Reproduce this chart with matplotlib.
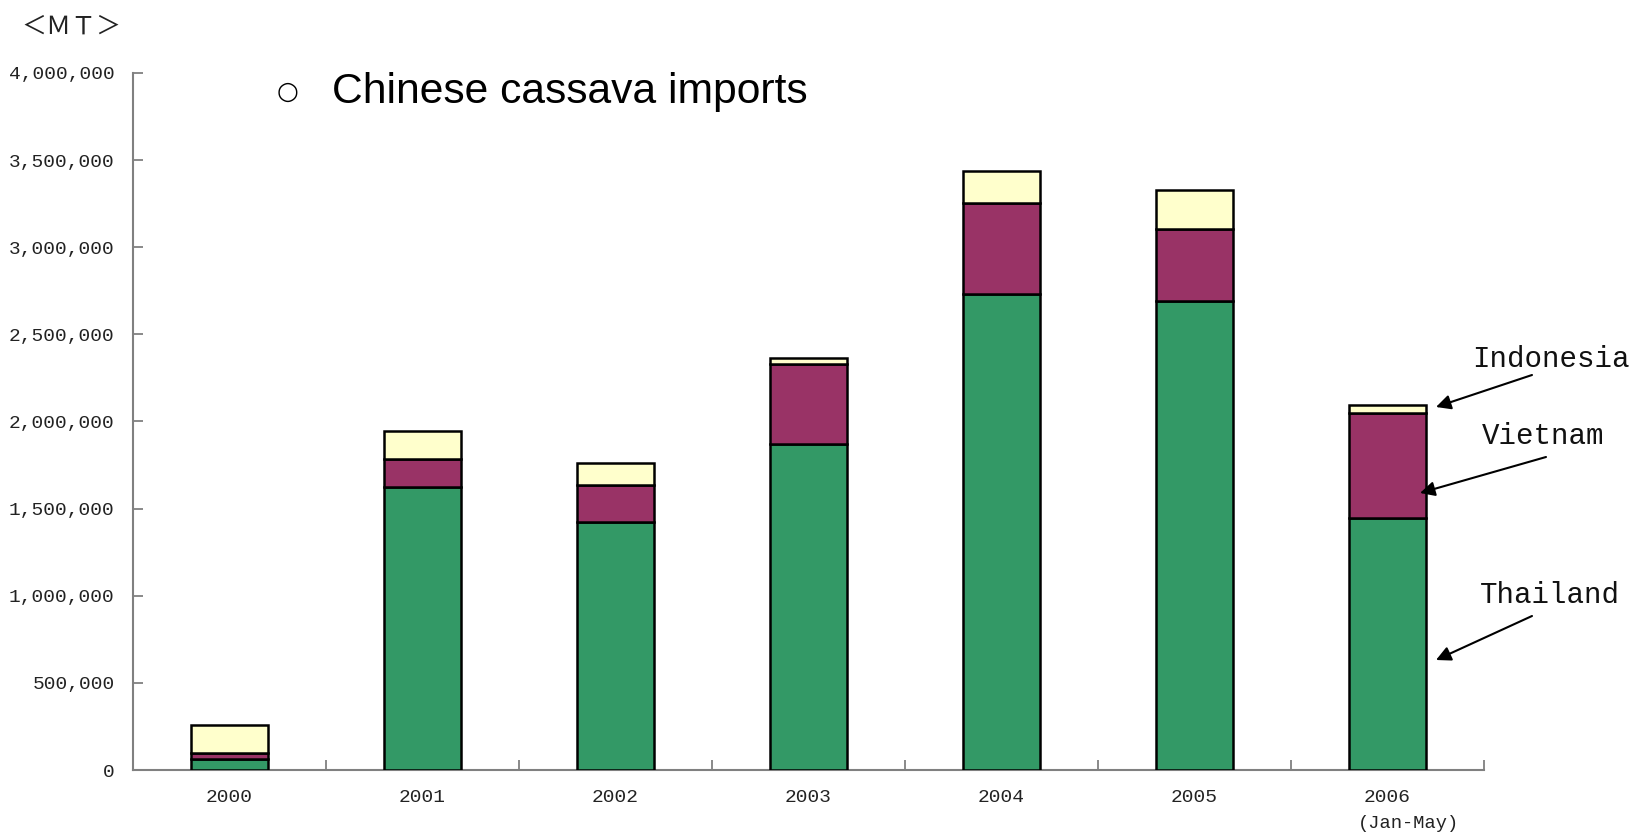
import matplotlib
matplotlib.use("Agg")
import matplotlib.pyplot as plt
from matplotlib.ticker import FuncFormatter, FixedLocator
import numpy as np

# Chinese cassava imports by origin (metric tons)
years = ["2000", "2001", "2002", "2003", "2004", "2005", "2006"]
thailand = [61000, 1626000, 1421000, 1869000, 2730000, 2690000, 1444000]
vietnam = [38000, 159000, 215000, 459000, 522000, 413000, 603000]
indonesia = [159000, 162000, 124000, 35000, 186000, 226000, 48000]
y_ticks = [0, 500000, 1000000, 1500000, 2000000, 2500000, 3000000, 3500000, 4000000]

GREEN = "#339966"
PURPLE = "#993366"
YELLOW = "#FFFFCC"
AXIS_GRAY = "#808080"
MONO = "Liberation Mono"

fig = plt.figure(figsize=(16.35, 8.33), dpi=100)
ax = fig.add_axes([0.0812, 0.0756, 0.8264, 0.8368])

x = np.arange(len(years))
w = 0.4
edge = dict(edgecolor="black", linewidth=1.8)
bottom2 = np.array(thailand)
bottom3 = bottom2 + np.array(vietnam)
ax.bar(x, thailand, w, color=GREEN, **edge, zorder=3)
ax.bar(x, vietnam, w, bottom=bottom2, color=PURPLE, **edge, zorder=3)
ax.bar(x, indonesia, w, bottom=bottom3, color=YELLOW, **edge, zorder=3)

ax.set_xlim(-0.5, len(years) - 0.5)
ax.set_ylim(0, 4000000)

for s in ("top", "right"):
    ax.spines[s].set_visible(False)
for s in ("left", "bottom"):
    ax.spines[s].set_color(AXIS_GRAY)
    ax.spines[s].set_linewidth(1.5)

ax.yaxis.set_major_locator(FixedLocator(y_ticks))
ax.yaxis.set_major_formatter(FuncFormatter(lambda v, p: f"{int(v):,}"))
ax.tick_params(axis="y", direction="in", length=7, width=1.3, color=AXIS_GRAY,
               pad=13, labelsize=14, labelcolor="#222222")

ax.set_xticks(x)
ax.set_xticklabels(years)
ax.set_xticks(np.arange(-0.5, len(years), 1.0), minor=True)
ax.tick_params(axis="x", which="major", length=0, pad=14, labelsize=14,
               labelcolor="#222222")
ax.tick_params(axis="x", which="minor", direction="in", length=7, width=1.3,
               color=AXIS_GRAY)
for lab in ax.get_xticklabels() + ax.get_yticklabels():
    lab.set_family(MONO)

# Period note under the last year
tr = matplotlib.transforms.blended_transform_factory(ax.transData, fig.transFigure)
ax.text(6.11, 1 - 828 / 833, "(Jan-May)", transform=tr, ha="center",
        va="baseline", family=MONO, fontsize=13.5, color="#222222")

# Unit label
fig.text(21 / 1635, 1 - 34 / 833, "＜ＭＴ＞", family="Noto Sans CJK JP",
         fontsize=18, color="#222222", ha="left", va="baseline")

# Title
fig.text(288 / 1635, 1 - 92 / 833, "○", family="DejaVu Sans", fontsize=18,
         ha="center", va="center")
fig.text(332 / 1635, 1 - 103 / 833, "Chinese cassava imports",
         family="Liberation Sans", fontsize=30.7, ha="left", va="baseline")

# Series labels with arrows pointing at the 2006 bar
labels = [
    ("Indonesia", (1472, 833 - 367), (1532, 833 - 375), (1436, 833 - 407)),
    ("Vietnam", (1482, 833 - 444), (1546, 833 - 457), (1420, 833 - 493)),
    ("Thailand", (1480, 833 - 603), (1532, 833 - 616), (1436, 833 - 660)),
]
for name, tpos, start, tip in labels:
    fig.text(tpos[0] / 1635, tpos[1] / 833, name, family=MONO, fontsize=21,
             ha="left", va="baseline", color="#111111")
    ax.annotate("", xy=tip, xycoords="figure pixels", xytext=start,
                textcoords="figure pixels",
                arrowprops=dict(arrowstyle="-|>", color="black", lw=1.5,
                                mutation_scale=22, shrinkA=0, shrinkB=0))

fig.savefig("out.png", dpi=100)
